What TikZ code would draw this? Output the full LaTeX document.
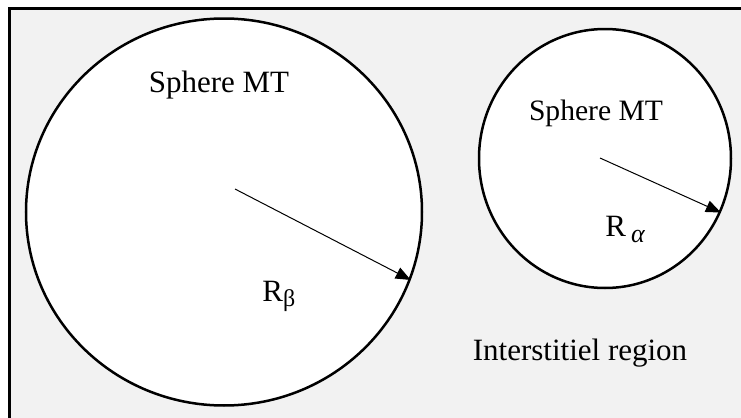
\documentclass[tikz,border=0pt]{standalone}
\usepackage{fontspec}
\setmainfont{Liberation Serif}
\usetikzlibrary{arrows.meta,shapes.geometric}
\definecolor{bggray}{HTML}{F2F2F2}

\begin{document}
\begin{tikzpicture}[x=0.5pt,y=-0.5pt,>=Triangle,
sphere box/.style={draw,ellipse,fill=white,line width=1.25pt,inner sep=0pt},
ray/.style={-{Triangle[length=7.5pt,width=6pt]},line width=0.5pt},
tag text/.style={inner sep=0pt,font=\fontsize{15.5}{18}\selectfont}]
\clip (0,0) rectangle (741,418);
\draw[fill=bggray,line width=1.4pt] (9.5,8.5) rectangle (780,450);
% the two muffin-tin spheres
\node[sphere box,minimum width=198pt,minimum height=193.5pt] (beta) at (224,212) {};
\node[sphere box,minimum width=126pt,minimum height=129.5pt] (alpha) at (605,158.5) {};
\coordinate (beta c) at (235,189);
\coordinate (alpha c) at (600,158);
\draw[ray] (beta c) -- (beta.-20);
\draw[ray] (alpha c) -- (alpha.-25);
% texts
\node[tag text] (mt1) at (219,85) {Sphere MT};
\node[tag text,font=\fontsize{14.8}{18}\selectfont] (mt2) at (596,113) {Sphere MT};
\node[tag text,anchor=base west] (rb) at (262,301) {R\raisebox{-2.5pt}{\fontsize{12}{14}\selectfont β}};
\node[tag text,anchor=base west] (ra) at (605,236) {R\,\raisebox{-3pt}{\fontsize{13}{15}\selectfont\itshape α}};
\node[tag text] (ir) at (580,353) {Interstitiel region};
\end{tikzpicture}
\end{document}
